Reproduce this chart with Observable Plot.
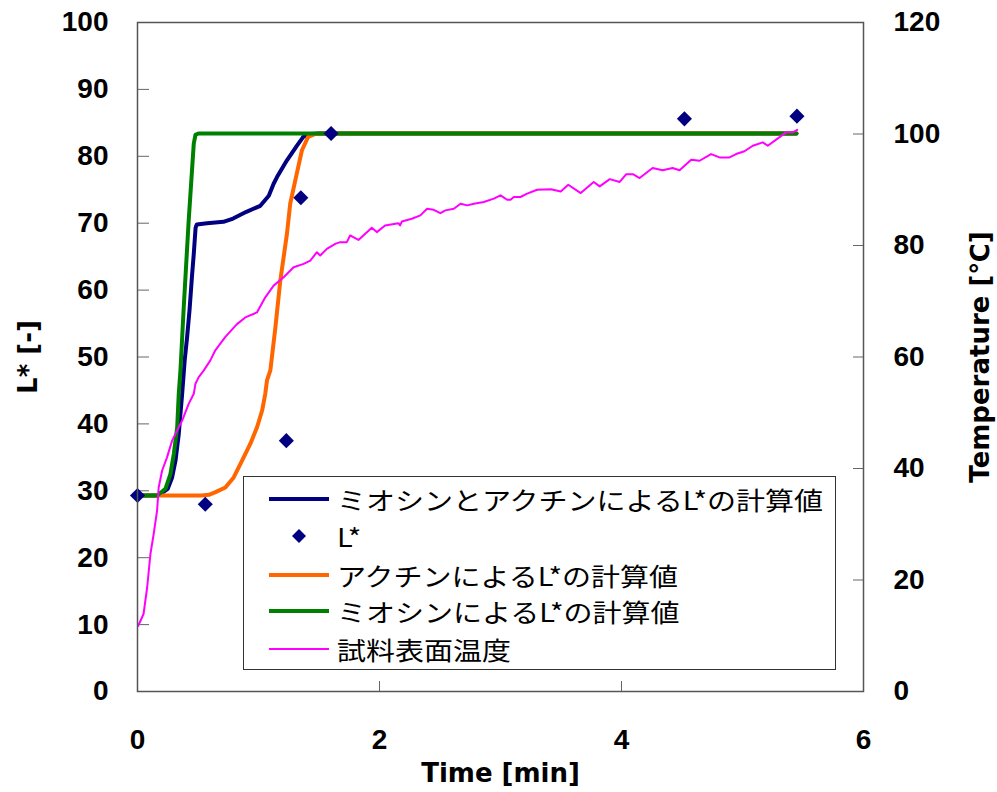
<!DOCTYPE html>
<html>
<head>
<meta charset="utf-8">
<script src="https://cdn.jsdelivr.net/npm/d3@7"></script>
<script src="https://cdn.jsdelivr.net/npm/@observablehq/plot@0.6"></script>
<style>
  body { margin: 0; background: #fff; }
  #wrap { position: relative; width: 997px; height: 792px; }
  #legend {
    position: absolute; left: 243px; top: 476px; width: 591px; height: 192px;
    border: 1px solid #333; background: #fff;
    font-family: "Noto Sans CJK JP", sans-serif; font-size: 25px; color: #000;
  }
  #legend .row { position: absolute; left: 0; height: 34px; display: flex; align-items: center; }
  #legend svg { display: block; margin-left: 25px; margin-right: 8px; }
  #legend span { display: inline-block; white-space: nowrap; line-height: 34px;
    transform: scaleX(1.16); transform-origin: left center; }
</style>
</head>
<body>
<div id="wrap"></div>
<script>
// Measured L* (diamonds)
const measTime = [0, 0.56, 1.23, 1.35, 1.60, 4.52, 5.45];
const measL    = [29.3, 28.0, 37.5, 73.8, 83.4, 85.6, 86.0];

// Calculated L* from myosin and actin
const bothTime = [0, 0.17, 0.25, 0.286, 0.314, 0.341, 0.369, 0.39, 0.41, 0.43, 0.45, 0.465, 0.48, 0.49, 0.575, 0.71, 0.79, 0.90, 1.015, 1.085, 1.125, 1.153, 1.235, 1.318, 1.37, 1.44, 1.50, 5.446];
const bothL    = [29.3, 29.3, 30.3, 32.0, 34.5, 38.5, 44.5, 49.5, 53.0, 57.0, 62.0, 65.4, 69.3, 69.8, 70.0, 70.2, 70.7, 71.7, 72.6, 74.1, 75.9, 76.9, 79.4, 81.6, 82.9, 83.35, 83.4, 83.4];

// Calculated L* from actin
const actinTime = [0, 0.53, 0.59, 0.645, 0.726, 0.795, 0.864, 0.932, 0.988, 1.03, 1.056, 1.07, 1.098, 1.14, 1.18, 1.235, 1.262, 1.304, 1.359, 1.41, 1.47, 1.55, 5.446];
const actinL    = [29.3, 29.3, 29.4, 29.8, 30.5, 32.0, 34.5, 37.0, 39.5, 42.0, 44.5, 46.5, 48.0, 54.5, 61.4, 68.4, 72.9, 76.4, 80.9, 82.9, 83.35, 83.4, 83.4];

// Calculated L* from myosin
const myosinTime = [0, 0.163, 0.231, 0.272, 0.30, 0.328, 0.341, 0.355, 0.382, 0.423, 0.465, 0.479, 0.503, 5.446];
const myosinL    = [29.3, 29.3, 30.3, 32.5, 35.5, 39.5, 44.5, 48.0, 57.4, 70.4, 81.9, 83.2, 83.4, 83.4];

// Sample surface temperature [°C] (right axis)
const tempTime = [0.006, 0.05, 0.08, 0.107, 0.134, 0.162, 0.175, 0.203, 0.244, 0.286, 0.327, 0.369, 0.423, 0.465, 0.479, 0.506, 0.548, 0.602, 0.643, 0.726, 0.822, 0.891, 0.987, 1.056, 1.125, 1.208, 1.29, 1.373, 1.428, 1.483, 1.51, 1.565, 1.634, 1.675, 1.73, 1.757, 1.826, 1.936, 1.978, 2.046, 2.156, 2.17, 2.185, 2.267, 2.338, 2.393, 2.448, 2.503, 2.545, 2.614, 2.67, 2.725, 2.78, 2.862, 2.945, 3.0, 3.055, 3.083, 3.11, 3.165, 3.22, 3.303, 3.416, 3.498, 3.56, 3.663, 3.77, 3.82, 3.903, 3.985, 4.04, 4.094, 4.15, 4.257, 4.34, 4.422, 4.48, 4.576, 4.645, 4.74, 4.81, 4.892, 4.947, 5.016, 5.085, 5.168, 5.209, 5.278, 5.36, 5.416, 5.452];
const tempC    = [11.8, 13.9, 18.7, 24.7, 28.3, 32.5, 36.6, 39.6, 42.0, 45.0, 46.8, 48.6, 51.6, 53.4, 55.2, 56.4, 57.6, 59.4, 61.2, 63.6, 65.9, 67.1, 68.0, 70.7, 72.8, 74.3, 76.1, 76.7, 77.3, 78.8, 78.2, 79.4, 80.3, 80.6, 80.6, 81.8, 81.0, 83.2, 82.4, 83.6, 84.0, 83.6, 84.3, 84.8, 85.4, 86.6, 86.4, 85.8, 86.3, 86.6, 87.5, 87.2, 87.5, 87.8, 88.4, 89.0, 88.2, 88.2, 88.7, 88.7, 89.3, 90.0, 90.1, 89.7, 90.9, 89.4, 91.4, 90.6, 91.9, 91.4, 92.8, 92.8, 92.1, 93.9, 93.5, 93.9, 93.5, 95.4, 95.2, 96.4, 95.8, 95.8, 96.4, 96.9, 97.9, 98.5, 97.9, 99.0, 100.3, 100.3, 100.75];

// Axis ticks
const timeTicks = [0, 2, 4, 6];
const lTicks = [0, 10, 20, 30, 40, 50, 60, 70, 80, 90, 100];
const tempTicks = [0, 20, 40, 60, 80, 100, 120];

// Series names
const names = ["ミオシンとアクチンによるL*の計算値", "L*", "アクチンによるL*の計算値", "ミオシンによるL*の計算値", "試料表面温度"];
const colors = ["#000080", "#000080", "#FF6600", "#008000", "#FF00FF"];

// temperature axis 0–120 shares the L* axis 0–100
const tempToL = t => t * 100 / 120;

const pts = (xs, ys) => xs.map((x, i) => ({x, y: ys[i]}));
const both = pts(bothTime, bothL);
const actin = pts(actinTime, actinL);
const myosin = pts(myosinTime, myosinL);
const temp = pts(tempTime, tempC);
const meas = pts(measTime, measL);

const tickFont = {fontSize: 28, fontWeight: "bold", fontFamily: "Liberation Sans, Arial, sans-serif"};
const titleFont = {fontSize: 26, fontWeight: "bold", fontFamily: "DejaVu Sans, sans-serif"};

const chart = Plot.plot({
  width: 997,
  height: 792,
  marginLeft: 137,
  marginRight: 134,
  marginTop: 22,
  marginBottom: 101,
  x: {domain: [0, 6]},
  y: {domain: [0, 100]},
  style: {background: "#fff", color: "#000"},
  marks: [
    // inward tick marks
    Plot.axisX([2, 4], {tickSize: -10, tickFormat: () => "", stroke: "#666", label: null}),
    Plot.axisY(lTicks, {tickSize: -12, tickFormat: () => "", stroke: "#666", label: null}),
    Plot.axisY(tempTicks.map(tempToL), {anchor: "right", tickSize: -11, tickFormat: () => "", stroke: "#666", label: null}),
    // tick labels
    Plot.axisX(timeTicks, {tickSize: 0, tickPadding: 38, label: null, tickFormat: d => String(d), ...tickFont}),
    Plot.axisY(lTicks, {tickSize: 0, tickPadding: 29, label: null, tickFormat: d => String(d), ...tickFont}),
    Plot.axisY(tempTicks.map(tempToL), {anchor: "right", tickSize: 0, tickPadding: 30, label: null,
      tickFormat: v => String(Math.round(v * 1.2)), ...tickFont}),
    // axis titles
    Plot.text(["Time [min]"], {frameAnchor: "bottom", dy: 90, ...titleFont}),
    Plot.text(["L* [-]"], {frameAnchor: "left", dx: -109, rotate: -90, textAnchor: "middle", ...titleFont}),
    Plot.text(["Temperature [℃]"], {frameAnchor: "right", dx: 117, rotate: -90, textAnchor: "middle", ...titleFont}),
    // series
    Plot.line(both, {x: "x", y: "y", stroke: colors[0], strokeWidth: 4, strokeLinejoin: "round"}),
    Plot.line(actin, {x: "x", y: "y", stroke: colors[2], strokeWidth: 4, strokeLinejoin: "round"}),
    Plot.line(myosin, {x: "x", y: "y", stroke: colors[3], strokeWidth: 4, strokeLinejoin: "round"}),
    Plot.line(temp, {x: "x", y: d => tempToL(d.y), stroke: colors[4], strokeWidth: 2, strokeLinejoin: "round"}),
    Plot.dot(meas, {x: "x", y: "y", symbol: "diamond2", r: 6.8, fill: colors[1], stroke: "none"}),
    Plot.frame({stroke: "#555", strokeWidth: 1.5})
  ]
});

const wrap = document.getElementById("wrap");
wrap.appendChild(chart);

// legend inside the plot area
const legend = document.createElement("div");
legend.id = "legend";
const rowTops = [5, 42, 81, 117, 155];
names.forEach((name, i) => {
  const row = document.createElement("div");
  row.className = "row";
  row.style.top = rowTops[i] + "px";
  const sample = i === 1
    ? `<svg width="60" height="20"><path d="M30,3L37,10L30,17L23,10Z" fill="${colors[i]}"/></svg>`
    : `<svg width="60" height="20"><line x1="0" x2="60" y1="10" y2="10" stroke="${colors[i]}" stroke-width="${i === 4 ? 2 : 4}"/></svg>`;
  row.innerHTML = sample + `<span>${name}</span>`;
  legend.appendChild(row);
});
wrap.appendChild(legend);
</script>
</body>
</html>
